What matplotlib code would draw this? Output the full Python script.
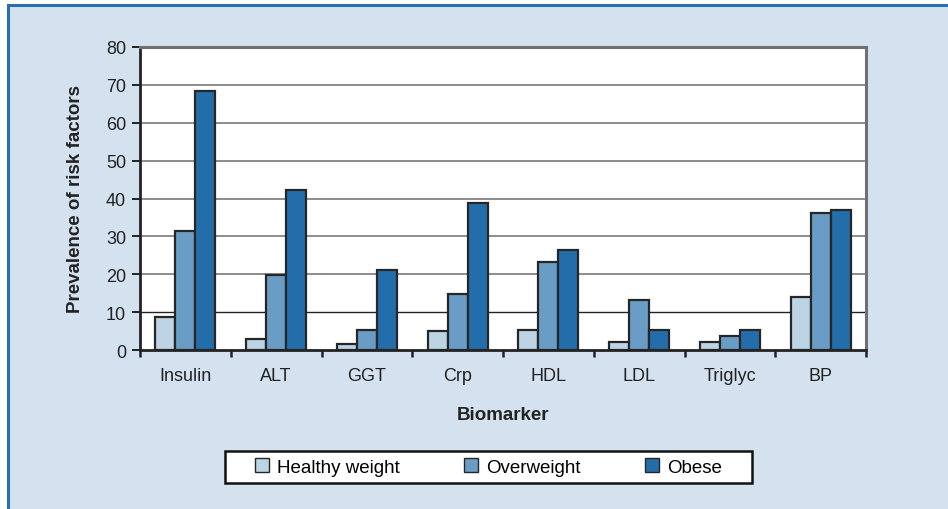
import matplotlib
matplotlib.use("Agg")
import matplotlib.pyplot as plt
from matplotlib.patches import Rectangle
import numpy as np

categories = ["Insulin", "ALT", "GGT", "Crp", "HDL", "LDL", "Triglyc", "BP"]
healthy = [8.7, 2.9, 1.6, 5.0, 5.3, 2.0, 2.0, 14.0]
overweight = [31.4, 19.8, 5.3, 14.8, 23.2, 13.2, 3.7, 36.2]
obese = [68.3, 42.2, 21.1, 38.8, 26.4, 5.3, 5.3, 37.0]
series_names = ["Healthy weight", "Overweight", "Obese"]
colors = ["#bdd4e4", "#6a9dc6", "#236eaa"]
bg = "#d4e2ef"
W, H = 948, 510

plt.rcParams["font.family"] = ["Liberation Sans", "DejaVu Sans"]

fig = plt.figure(figsize=(W / 100, H / 100), dpi=100, facecolor="white")
# light blue panel with a blue rule on top and left
fig.patches.append(Rectangle((8 / W, -0.1), 1.2, (H - 6) / H + 0.1,
                             transform=fig.transFigure, facecolor=bg,
                             edgecolor="#2b6fae", linewidth=2.2, zorder=-10))

ax = fig.add_axes([140 / W, 1 - 351 / H, (866 - 140) / W, (351 - 48) / H])
ax.set_facecolor("white")

x = np.arange(len(categories))
bw = 0.22
for k, (vals, name, c) in enumerate(zip([healthy, overweight, obese], series_names, colors)):
    ax.bar(x + (k - 1) * bw, vals, width=bw, color=c, edgecolor="#262626",
           linewidth=1.6, label=name, zorder=3)

ax.set_xlim(-0.5, len(categories) - 0.5)
ax.set_ylim(0, 80)
ax.set_yticks(np.arange(0, 81, 10))
for v in range(10, 80, 10):
    if v == 10:
        ax.axhline(v, color="#222222", linewidth=1.0, zorder=1)
    else:
        ax.axhline(v, color="#8c8c8c", linewidth=1.4, zorder=1)

ax.set_xticks(x)
ax.set_xticklabels(categories)
ax.set_xticks(np.arange(-0.5, len(categories)), minor=True)
ax.tick_params(axis="x", which="major", length=0, pad=12, labelsize=13, colors="#222222")
ax.tick_params(axis="x", which="minor", length=5, width=1.8, direction="out", color="#222222")
ax.tick_params(axis="y", length=6, width=1.4, direction="out", labelsize=13,
               colors="#222222", pad=4)

for side in ["left", "bottom"]:
    ax.spines[side].set_color("#222222")
    ax.spines[side].set_linewidth(2)
for side in ["top", "right"]:
    ax.spines[side].set_color("#707070")
    ax.spines[side].set_linewidth(2.2)

ax.set_xlabel("Biomarker", fontsize=13.5, fontweight="bold", labelpad=16, color="#222222")
ax.set_ylabel("Prevalence of risk factors", fontsize=13.5, fontweight="bold",
              labelpad=16, color="#222222")

# legend box
fig.patches.append(Rectangle((225 / W, 1 - 484 / H), (752 - 225) / W, 32 / H,
                             transform=fig.transFigure, facecolor="white",
                             edgecolor="#111111", linewidth=1.8, zorder=1))
leg = fig.legend(loc="center", ncol=3,
                 bbox_to_anchor=((225 + 752) / 2 / W, 1 - 468 / H),
                 bbox_transform=fig.transFigure, frameon=False, fontsize=13.5,
                 handlelength=0.75, handleheight=0.75, handletextpad=0.45,
                 columnspacing=3.4, borderpad=0, borderaxespad=0)
leg.set_zorder(2)
for h in leg.legend_handles:
    h.set_linewidth(1.0)

fig.savefig("out.png", dpi=100, facecolor=fig.get_facecolor())
